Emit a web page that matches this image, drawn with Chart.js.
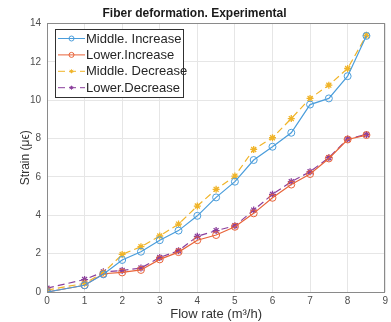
<!DOCTYPE html>
<html>
<head>
<meta charset="utf-8">
<script src="https://cdn.jsdelivr.net/npm/chart.js@4"></script>
<style>
  html, body { margin: 0; padding: 0; background: #fff; }
  #wrap { width: 391px; height: 322px; }
</style>
</head>
<body>
<div id="wrap"><canvas id="myCanvas" width="391" height="322"></canvas></div>
<script>
const flowRate = [0, 1, 1.5, 2, 2.5, 3, 3.5, 4, 4.5, 5, 5.5, 6, 6.5, 7, 7.5, 8, 8.5];
const middleIncrease = [0, 0.35, 0.92, 1.67, 2.1, 2.7, 3.2, 3.97, 4.93, 5.75, 6.88, 7.57, 8.3, 9.77, 10.09, 11.25, 13.35];
const lowerIncrease = [0, 0.35, 0.95, 1.02, 1.15, 1.7, 2.08, 2.7, 2.97, 3.4, 4.1, 4.91, 5.6, 6.15, 6.96, 7.95, 8.18];
const middleDecrease = [0.1, 0.45, 1.0, 1.96, 2.36, 2.92, 3.54, 4.48, 5.35, 6.04, 7.43, 8.04, 9.04, 10.09, 10.78, 11.65, 13.38];
const lowerDecrease = [0.2, 0.65, 1.05, 1.12, 1.25, 1.8, 2.15, 2.9, 3.2, 3.45, 4.27, 5.09, 5.75, 6.27, 7.0, 7.97, 8.21];
const seriesNames = ['Middle. Increase', 'Lower.Increase', 'Middle. Decrease', 'Lower.Decrease'];
const yTicks = [0, 2, 4, 6, 8, 10, 12, 14];
const xTicks = [0, 1, 2, 3, 4, 5, 6, 7, 8, 9];

const font = "'Liberation Sans', Arial, sans-serif";

function toPoints(values) {
    return values.map((v, i) => ({ x: flowRate[i], y: v }));
}

function makeSeries(label, values, color, style, dashed) {
    return {
        label: label,
        data: toPoints(values),
        borderColor: color,
        backgroundColor: 'transparent',
        borderWidth: 1.2,
        borderDash: dashed ? [7, 4] : [],
        pointStyle: style,
        pointRadius: style === 'circle' ? 3.5 : 3.5,
        pointBorderColor: color,
        pointBackgroundColor: 'transparent',
        pointBorderWidth: style === 'circle' ? 1 : 1.3,
        tension: 0
    };
}

// box around the plot, like matlab "box on"
const boxPlugin = {
    id: 'box',
    afterDraw(chart) {
        const a = chart.chartArea;
        const ctx = chart.ctx;
        ctx.save();
        ctx.strokeStyle = '#8a8a8a';
        ctx.lineWidth = 1;
        ctx.strokeRect(Math.round(a.left) + 0.5, Math.round(a.top) + 0.5,
            Math.round(a.right - a.left) - 1, Math.round(a.bottom - a.top));
        ctx.restore();
    }
};

// legend inside the axes, top left
const insideLegend = {
    id: 'insideLegend',
    afterDraw(chart) {
        const ctx = chart.ctx;
        const x0 = 55, y0 = 29, w = 128, h = 68;
        ctx.save();
        ctx.fillStyle = '#fff';
        ctx.fillRect(x0, y0, w, h);
        ctx.strokeStyle = '#303030';
        ctx.lineWidth = 1;
        ctx.strokeRect(x0 + 0.5, y0 + 0.5, w, h);
        ctx.font = '13px ' + font;
        ctx.textBaseline = 'middle';
        ctx.textAlign = 'left';
        chart.data.datasets.forEach((ds, i) => {
            const y = y0 + 9.5 + i * 16.4;
            ctx.strokeStyle = ds.borderColor;
            ctx.lineWidth = 1;
            ctx.setLineDash(ds.borderDash);
            ctx.beginPath();
            ctx.moveTo(x0 + 3, y);
            ctx.lineTo(x0 + 30, y);
            ctx.stroke();
            ctx.setLineDash([]);
            ctx.fillStyle = 'rgba(0,0,0,0)';
            Chart.helpers.drawPoint(ctx, {
                pointStyle: ds.pointStyle,
                radius: ds.pointStyle === 'circle' ? 2.5 : 2,
                borderWidth: 1
            }, x0 + 16.5, y);
            ctx.fillStyle = '#262626';
            ctx.fillText(ds.label, x0 + 31, y + 0.5);
        });
        ctx.restore();
    }
};

const context = document.getElementById('myCanvas').getContext('2d');
new Chart(context, {
    type: 'line',
    data: {
        datasets: [
            makeSeries(seriesNames[0], middleIncrease, '#4a9ddb', 'circle', false),
            makeSeries(seriesNames[1], lowerIncrease, '#e8643a', 'circle', false),
            makeSeries(seriesNames[2], middleDecrease, '#f0b429', 'star', true),
            makeSeries(seriesNames[3], lowerDecrease, '#8b3f9c', 'star', true)
        ]
    },
    options: {
        responsive: false,
        animation: false,
        layout: { padding: { top: 0, right: 2, left: 0, bottom: 0 } },
        plugins: {
            legend: { display: false },
            tooltip: { enabled: false },
            title: {
                display: true,
                text: 'Fiber deformation. Experimental',
                color: '#1a1a1a',
                font: { family: font, size: 12, weight: 'bold' },
                padding: { top: 6, bottom: 3 }
            }
        },
        scales: {
            x: {
                type: 'linear',
                min: 0,
                max: 9,
                afterBuildTicks(scale) { scale.ticks = xTicks.map(v => ({ value: v })); },
                afterFit(scale) { scale.height = 30; },
                grid: { color: '#e6e6e6', drawTicks: false },
                border: { display: false },
                ticks: { color: '#4d4d4d', font: { family: font, size: 10 }, padding: 3, maxRotation: 0 },
                title: {
                    display: true,
                    text: 'Flow rate (m³/h)',
                    color: '#333',
                    font: { family: font, size: 13 },
                    padding: { top: -2, bottom: 0 }
                }
            },
            y: {
                min: 0,
                max: 14,
                afterBuildTicks(scale) { scale.ticks = yTicks.map(v => ({ value: v })); },
                afterFit(scale) { scale.width = 47; },
                grid: { color: '#e6e6e6', drawTicks: false },
                border: { display: false },
                ticks: { color: '#4d4d4d', font: { family: font, size: 10 }, padding: 6 },
                title: {
                    display: true,
                    text: 'Strain (μϵ)',
                    color: '#333',
                    font: { family: font, size: 12 },
                    padding: { top: 18, bottom: 0 }
                }
            }
        }
    },
    plugins: [boxPlugin, insideLegend]
});
</script>
</body>
</html>
